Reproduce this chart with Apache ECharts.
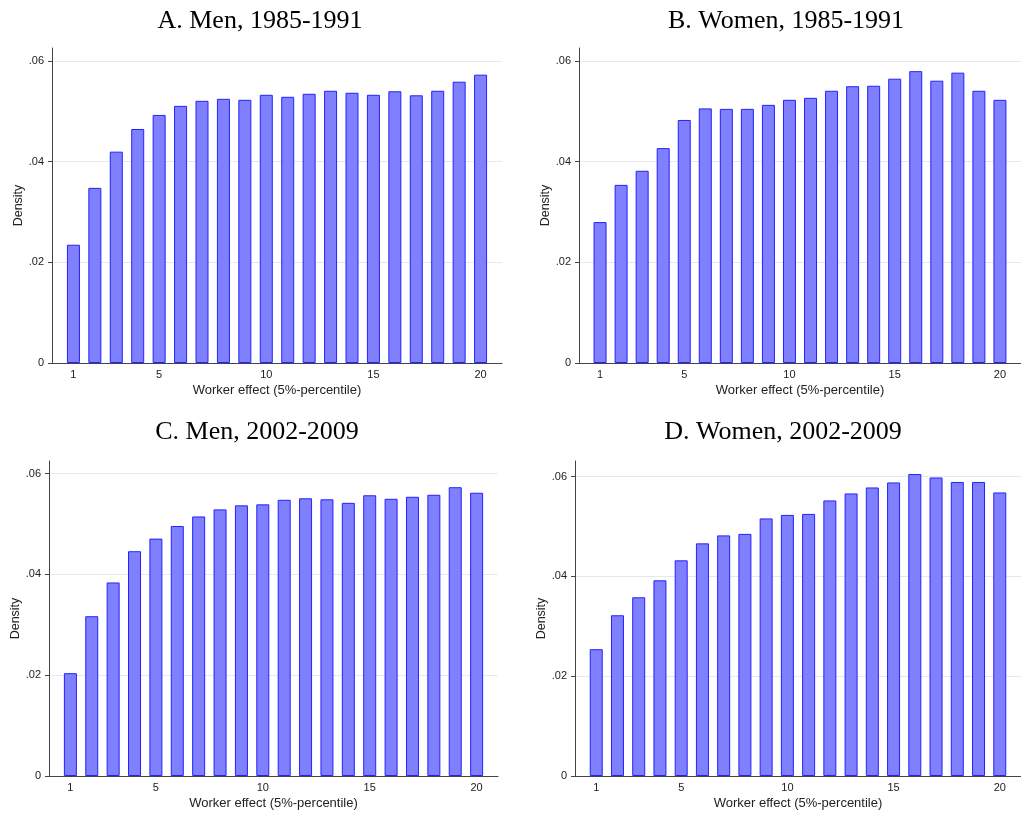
<!DOCTYPE html>
<html>
<head>
<meta charset="utf-8">
<script src="https://cdn.jsdelivr.net/npm/echarts@6/dist/echarts.min.js"></script>
<style>
html,body{margin:0;padding:0;background:#fff;}
#c{width:1021px;height:816px;}
</style>
</head>
<body>
<div id="c"></div>
<script>
// Bins (5%-percentiles of worker effect)
var bins = [1,2,3,4,5,6,7,8,9,10,11,12,13,14,15,16,17,18,19,20];
var xTickLabels = [1,5,10,15,20];
var yTickValues = [0,0.02,0.04,0.06];

var titles = ["A. Men, 1985-1991","B. Women, 1985-1991","C. Men, 2002-2009","D. Women, 2002-2009"];

var menEarly   = [0.0235,0.0348,0.0420,0.0465,0.0493,0.0511,0.0521,0.0525,0.0523,0.0533,0.0529,0.0535,0.0541,0.0537,0.0533,0.0540,0.0532,0.0541,0.0559,0.0573];
var womenEarly = [0.0280,0.0354,0.0382,0.0427,0.0483,0.0506,0.0505,0.0505,0.0513,0.0523,0.0527,0.0541,0.0550,0.0551,0.0565,0.0580,0.0561,0.0577,0.0541,0.0523];
var menLate    = [0.0204,0.0317,0.0384,0.0446,0.0471,0.0496,0.0515,0.0529,0.0537,0.0539,0.0548,0.0551,0.0549,0.0542,0.0557,0.0550,0.0554,0.0558,0.0573,0.0562];
var womenLate  = [0.0254,0.0322,0.0358,0.0392,0.0432,0.0466,0.0482,0.0485,0.0516,0.0523,0.0525,0.0552,0.0566,0.0578,0.0588,0.0605,0.0598,0.0589,0.0589,0.0568];

var panels = [menEarly, womenEarly, menLate, womenLate];

// layout (pixels)
var grids = [
  {left:52,  top:48,  width:450, height:315, ymax:0.0626, titleX:255, titleY:3},
  {left:579, top:48,  width:449, height:315, ymax:0.0626, titleX:781, titleY:3},
  {left:49,  top:461, width:449, height:315, ymax:0.0625, titleX:252, titleY:414},
  {left:575, top:461, width:449, height:315, ymax:0.0631, titleX:778, titleY:414}
];

var chart = echarts.init(document.getElementById('c'), null, {renderer:'canvas'});
var opt = {
  backgroundColor:'#ffffff',
  animation:false,
  title:[], grid:[], xAxis:[], yAxis:[], series:[]
};
function fmtY(v){
  if (Math.abs(v) < 1e-9) return '0';
  return '.' + (Math.round(v*100)).toString().padStart(2,'0');
}
panels.forEach(function(vals, i){
  var g = grids[i];
  opt.title.push({
    text:titles[i], left:g.titleX, top:g.titleY, textAlign:'center',
    textStyle:{fontFamily:'Liberation Serif', fontSize:26, fontWeight:'normal', color:'#000'}
  });
  opt.grid.push({left:g.left, top:g.top, width:g.width, height:g.height, containLabel:false});
  opt.xAxis.push({
    type:'value', gridIndex:i, min:0, max:21,
    name:'Worker effect (5%-percentile)', nameLocation:'middle', nameGap:21,
    nameTextStyle:{fontFamily:'Liberation Sans', fontSize:13, color:'#222'},
    axisLine:{show:true, onZero:false, lineStyle:{color:'#444', width:1}},
    axisTick:{show:false},
    axisLabel:{customValues:xTickLabels, fontFamily:'Liberation Sans', fontSize:11, color:'#222', margin:6},
    splitLine:{show:false}
  });
  opt.yAxis.push({
    type:'value', gridIndex:i, min:0, max:g.ymax,
    name:'Density', nameLocation:'middle', nameGap:27, nameRotate:90,
    nameTextStyle:{fontFamily:'Liberation Sans', fontSize:12.5, color:'#222'},
    axisLine:{show:true, lineStyle:{color:'#444', width:1}},
    axisTick:{show:true, length:4, customValues:yTickValues, lineStyle:{color:'#444'}},
    axisLabel:{customValues:yTickValues, formatter:fmtY, fontFamily:'Liberation Sans', fontSize:11, color:'#222', margin:8},
    splitLine:{show:true, lineStyle:{color:'#e8e8e8', width:1}}
  });
  opt.series.push({
    type:'bar', xAxisIndex:i, yAxisIndex:i, barWidth:13,
    itemStyle:{color:'#8080ff', borderColor:'#2222ff', borderWidth:1},
    data: bins.map(function(b, k){ return [b, vals[k]]; })
  });
});
chart.setOption(opt);
</script>
</body>
</html>
